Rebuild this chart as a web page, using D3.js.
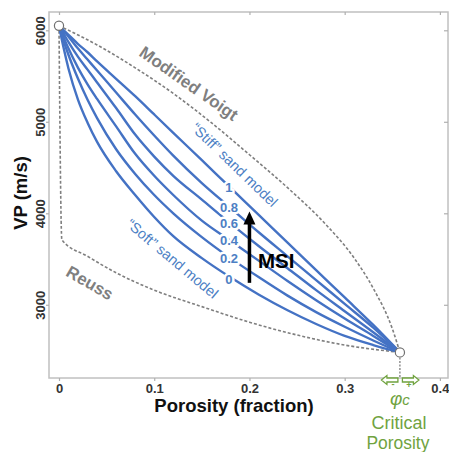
<!DOCTYPE html>
<html>
<head>
<meta charset="utf-8">
<script src="https://cdn.jsdelivr.net/npm/d3@7"></script>
<style>
  body { margin: 0; background: #fff; }
  svg { display: block; font-family: "Liberation Sans", Arial, sans-serif; }
  .axis text { font-size: 13px; font-weight: bold; fill: #333; }
  .axis line { stroke: #b0b0b0; stroke-width: 1.2; }
</style>
</head>
<body>
<svg id="chart" width="449" height="452"></svg>
<script>
// ----- DATA -----------------------------------------------------------
const porosity = [0, 0.005, 0.01, 0.02, 0.03, 0.04, 0.06, 0.08, 0.10, 0.12, 0.15, 0.18, 0.21, 0.24, 0.27, 0.30, 0.33, 0.358];
const msiLevels = ["0", "0.2", "0.4", "0.6", "0.8", "1"];
const vpMsi0  = [6050, 5800, 5580, 5240, 4990, 4780, 4460, 4200, 3960, 3750, 3510, 3300, 3110, 2940, 2790, 2660, 2560, 2480];
const vpMsi02 = [6050, 5880, 5730, 5470, 5240, 5040, 4700, 4430, 4200, 4000, 3740, 3510, 3300, 3100, 2920, 2760, 2610, 2480];
const vpMsi04 = [6050, 5920, 5800, 5590, 5410, 5250, 4950, 4650, 4410, 4200, 3920, 3700, 3480, 3260, 3050, 2850, 2660, 2480];
const vpMsi06 = [6050, 5960, 5870, 5710, 5570, 5430, 5150, 4860, 4620, 4410, 4150, 3890, 3640, 3400, 3160, 2930, 2700, 2480];
const vpMsi08 = [6050, 5990, 5930, 5800, 5680, 5560, 5320, 5080, 4850, 4630, 4330, 4060, 3790, 3530, 3270, 3010, 2750, 2480];
const vpMsi1  = [6050, 6000, 5950, 5850, 5760, 5660, 5470, 5280, 5080, 4880, 4580, 4280, 3980, 3680, 3380, 3080, 2780, 2480];

const voigtPorosity = [0, 0.04, 0.08, 0.12, 0.16, 0.20, 0.24, 0.28, 0.31, 0.33, 0.35, 0.358];
const voigtVp       = [6050, 5840, 5590, 5310, 4990, 4640, 4280, 3880, 3510, 3180, 2740, 2480];
const reussPorosity = [0, 0.003, 0.03, 0.06, 0.10, 0.15, 0.20, 0.25, 0.30, 0.358];
const reussVp       = [6050, 3710, 3530, 3350, 3160, 2980, 2810, 2670, 2560, 2480];

const mineralPoint = [0, 6050];
const criticalPoint = [0.358, 2480];

const xTicks = [0, 0.1, 0.2, 0.3, 0.4];
const yTicks = [3000, 4000, 5000, 6000];

// ----- CHART ----------------------------------------------------------
const BLUE = "#4472c4";
const BLUE_TEXT = "#4d7fc4";
const GREY = "#7f7f7f";
const GREEN = "#70a33f";

const svg = d3.select("#chart");

const x = d3.scaleLinear().domain([-0.0105, 0.4085]).range([49, 448]);
const y = d3.scaleLinear().domain([2200, 6200]).range([378, 12]);

// frame
svg.append("rect")
    .attr("x", x.range()[0])
    .attr("y", y.range()[1])
    .attr("width", x.range()[1] - x.range()[0])
    .attr("height", y.range()[0] - y.range()[1])
    .attr("fill", "none")
    .attr("stroke", "#c0c0c0")
    .attr("stroke-width", 1.5);

// axes
const xAxisGroup = svg.append("g")
    .attr("class", "axis")
    .attr("transform", "translate(0," + y.range()[0] + ")")
    .call(d3.axisBottom(x).tickValues(xTicks).tickSize(3).tickPadding(3)
        .tickFormat(d => d === 0 ? "0" : d3.format(".1f")(d)));
xAxisGroup.select(".domain").remove();

const topAxisGroup = svg.append("g")
    .attr("class", "axis")
    .attr("transform", "translate(0," + y.range()[1] + ")")
    .call(d3.axisTop(x).tickValues(xTicks).tickSize(-3).tickFormat(""));
topAxisGroup.select(".domain").remove();

const yAxisGroup = svg.append("g")
    .attr("class", "axis")
    .attr("transform", "translate(" + x.range()[0] + ",0)")
    .call(d3.axisLeft(y).tickValues(yTicks).tickSize(3).tickFormat(d3.format("d")));
yAxisGroup.select(".domain").remove();
yAxisGroup.selectAll("text")
    .attr("transform", "rotate(-90)")
    .attr("x", 0)
    .attr("y", -4)
    .attr("dy", 0)
    .attr("text-anchor", "middle");

const rightAxisGroup = svg.append("g")
    .attr("class", "axis")
    .attr("transform", "translate(" + x.range()[1] + ",0)")
    .call(d3.axisRight(y).tickValues(yTicks).tickSize(-4).tickFormat(""));
rightAxisGroup.select(".domain").remove();

// axis titles
svg.append("text")
    .text("Porosity (fraction)")
    .attr("x", 234)
    .attr("y", 412)
    .attr("text-anchor", "middle")
    .attr("font-size", 18.5)
    .attr("font-weight", "bold")
    .attr("fill", "#111");

svg.append("text")
    .text("VP (m/s)")
    .attr("transform", "translate(27,193) rotate(-90)")
    .attr("text-anchor", "middle")
    .attr("font-size", 18.5)
    .attr("font-weight", "bold")
    .attr("fill", "#111");

// bounds (dashed)
const line = d3.line()
    .x(d => x(d[0]))
    .y(d => y(d[1]))
    .curve(d3.curveMonotoneX);

svg.append("path")
    .attr("d", line(d3.zip(voigtPorosity, voigtVp)))
    .attr("fill", "none")
    .attr("stroke", GREY)
    .attr("stroke-width", 1.6)
    .attr("stroke-dasharray", "3,2");

svg.append("path")
    .attr("d", line(d3.zip(reussPorosity, reussVp)))
    .attr("fill", "none")
    .attr("stroke", GREY)
    .attr("stroke-width", 1.6)
    .attr("stroke-dasharray", "3,2");

// MSI curves
const msiSeries = [vpMsi0, vpMsi02, vpMsi04, vpMsi06, vpMsi08, vpMsi1];

svg.append("g")
    .selectAll("path")
    .data(msiSeries)
    .join("path")
        .attr("d", v => line(d3.zip(porosity, v)))
        .attr("fill", "none")
        .attr("stroke", BLUE)
        .attr("stroke-width", 2.4);

// value of a curve at a given porosity
function vpAt( values, phi )
{
    const i = Math.min( d3.bisectRight(porosity, phi) - 1, porosity.length - 2 );
    const t = ( phi - porosity[i] ) / ( porosity[i+1] - porosity[i] );
    return values[i] + t * ( values[i+1] - values[i] );
}

const labelPhi = 0.1785;
svg.append("g")
    .selectAll("text")
    .data(msiSeries)
    .join("text")
        .text((d, i) => msiLevels[i])
        .attr("x", x(labelPhi))
        .attr("y", (d, i) => y(vpAt(d, labelPhi)) + ( i === 0 ? 3 : 1 ))
        .attr("dy", "0.35em")
        .attr("text-anchor", "middle")
        .attr("font-size", 13)
        .attr("font-weight", "bold")
        .attr("fill", BLUE_TEXT)
        .attr("stroke", "#fff")
        .attr("stroke-width", 5)
        .attr("stroke-linejoin", "round")
        .attr("paint-order", "stroke");

// curve annotations
function rotatedLabel( txt, phi, vp, angle, size, weight, colour )
{
    svg.append("text")
        .text(txt)
        .attr("transform", "translate(" + x(phi) + "," + y(vp) + ") rotate(" + angle + ")")
        .attr("dy", "0.35em")
        .attr("text-anchor", "middle")
        .attr("font-size", size)
        .attr("font-weight", weight)
        .attr("fill", colour);
}

rotatedLabel("Modified Voigt", 0.1365, 5420, 35, 17, "bold", GREY);
rotatedLabel("Reuss", 0.0325, 3240, 30, 17, "bold", GREY);
rotatedLabel("\u201CStiff\u201D sand model", 0.1845, 4530, 44, 14.5, "normal", BLUE_TEXT);
rotatedLabel("\u201CSoft\u201D sand model", 0.119, 3505, 40, 14.5, "normal", BLUE_TEXT);

// MSI arrow
const arrowX = x(0.2);
const tipY = y(4020);
svg.append("line")
    .attr("x1", arrowX)
    .attr("x2", arrowX)
    .attr("y1", y(3240))
    .attr("y2", tipY + 10)
    .attr("stroke", "#000")
    .attr("stroke-width", 3.5);
svg.append("path")
    .attr("d", "M" + arrowX + "," + tipY + " L" + (arrowX - 6) + "," + (tipY + 13) + " L" + (arrowX + 6) + "," + (tipY + 13) + " Z")
    .attr("fill", "#000");
svg.append("text")
    .text("MSI")
    .attr("x", x(0.2089))
    .attr("y", y(3402))
    .attr("font-size", 20.5)
    .attr("font-weight", "bold")
    .attr("fill", "#000");

// critical porosity marker
const cx = x(criticalPoint[0]);
const axisY = y.range()[0];
svg.append("line")
    .attr("x1", cx)
    .attr("x2", cx)
    .attr("y1", y(criticalPoint[1]) + 5)
    .attr("y2", axisY)
    .attr("stroke", GREY)
    .attr("stroke-width", 1.3)
    .attr("stroke-dasharray", "2,1.5");

// end points
svg.append("g")
    .selectAll("circle")
    .data([mineralPoint, criticalPoint])
    .join("circle")
        .attr("cx", d => x(d[0]))
        .attr("cy", d => y(d[1]))
        .attr("r", 4.6)
        .attr("fill", "#fff")
        .attr("stroke", "#707070")
        .attr("stroke-width", 1.2);

const ay = axisY + 2;
const leftArrow = [[-2, -2], [-13, -2], [-13, -4.5], [-18.5, 0], [-13, 4.5], [-13, 2], [-2, 2]];
const rightArrow = leftArrow.map(p => [-p[0] + 0.5, p[1]]);
[leftArrow, rightArrow].forEach(pts => {
    svg.append("path")
        .attr("d", "M" + pts.map(p => (cx + p[0]) + "," + (ay + p[1])).join(" L") + " Z")
        .attr("fill", "#fff")
        .attr("stroke", GREEN)
        .attr("stroke-width", 1.3)
        .attr("stroke-linejoin", "miter");
});

svg.append("text").text("-")
    .attr("x", cx - 7).attr("y", 387)
    .attr("text-anchor", "middle").attr("font-size", 9).attr("font-weight", "bold").attr("fill", GREEN);
svg.append("text").text("+")
    .attr("x", cx + 9).attr("y", 387.5)
    .attr("text-anchor", "middle").attr("font-size", 9).attr("font-weight", "bold").attr("fill", GREEN);

const phiText = svg.append("text")
    .attr("x", cx)
    .attr("y", 405)
    .attr("text-anchor", "middle")
    .attr("font-style", "italic")
    .attr("fill", GREEN);
phiText.append("tspan").text("\u03C6").attr("font-size", 19);
phiText.append("tspan").text("c").attr("font-size", 15);

svg.append("text")
    .text("Critical")
    .attr("x", cx - 1)
    .attr("y", 429)
    .attr("text-anchor", "middle")
    .attr("font-size", 17.5)
    .attr("textLength", 55)
    .attr("lengthAdjust", "spacingAndGlyphs")
    .attr("fill", GREEN);
svg.append("text")
    .text("Porosity")
    .attr("x", cx - 2)
    .attr("y", 449)
    .attr("text-anchor", "middle")
    .attr("font-size", 17.5)
    .attr("textLength", 63)
    .attr("lengthAdjust", "spacingAndGlyphs")
    .attr("fill", GREEN);
</script>
</body>
</html>
